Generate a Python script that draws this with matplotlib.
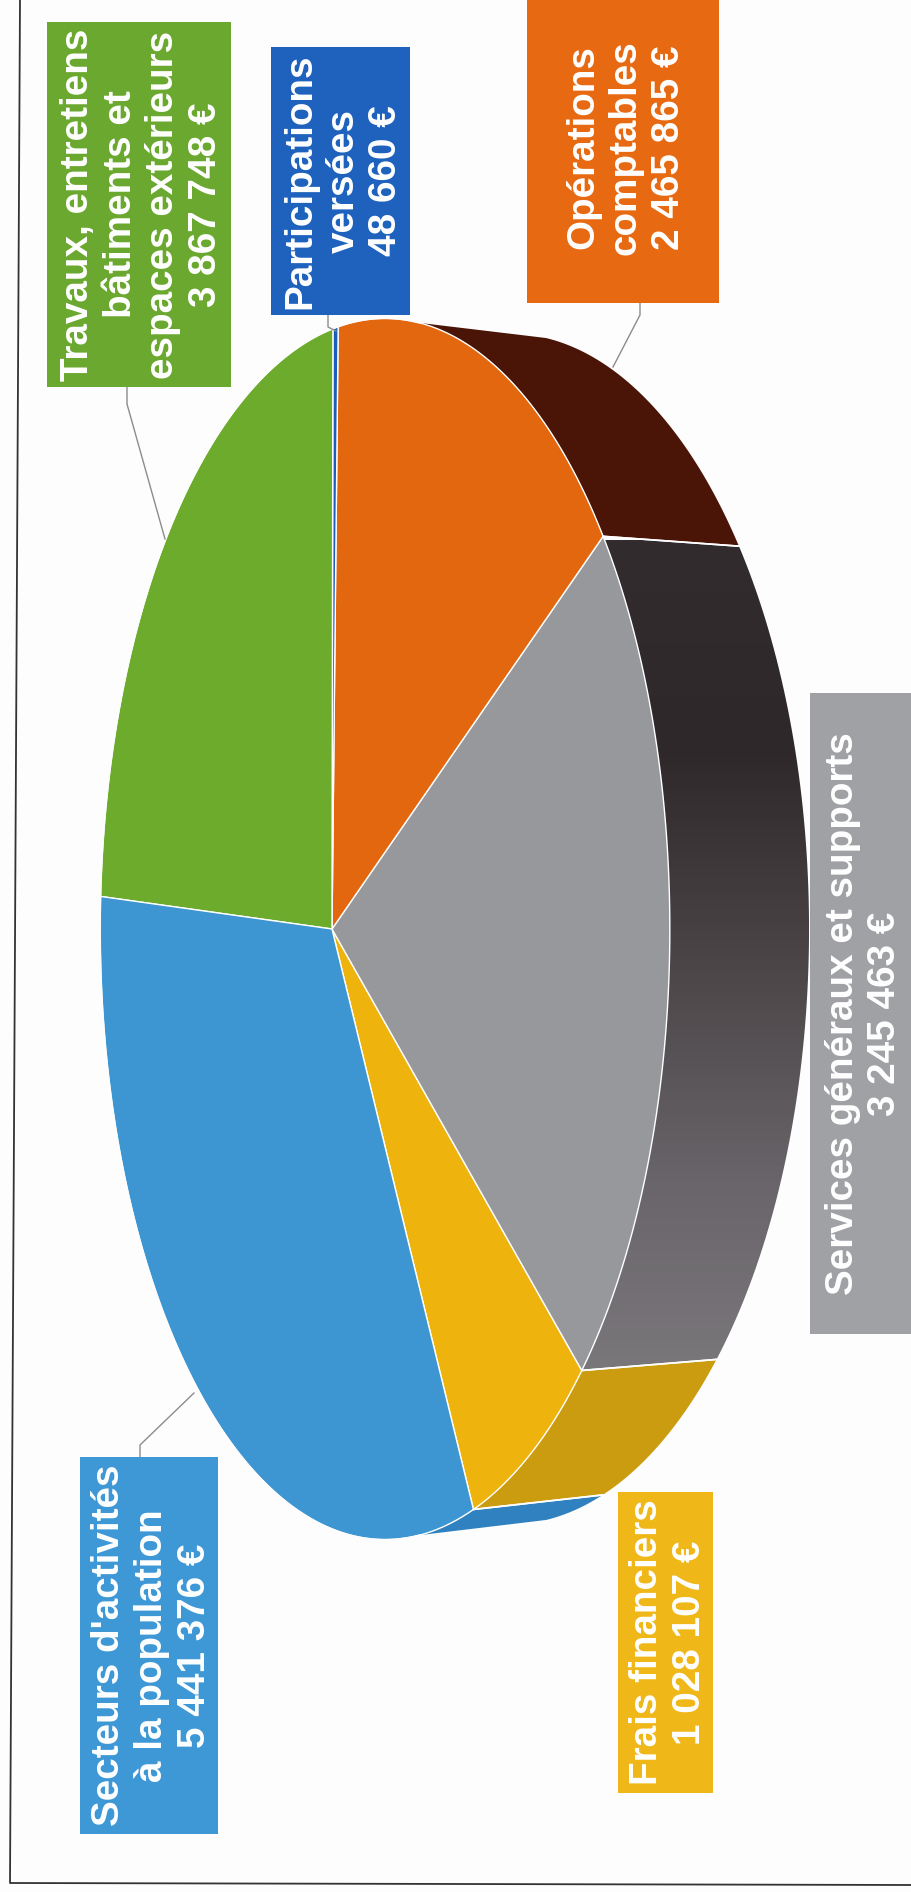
import numpy as np
import matplotlib
matplotlib.use('Agg')
import matplotlib.pyplot as plt
from matplotlib.colors import LinearSegmentedColormap
from matplotlib.patches import Polygon, Rectangle

# slices, clockwise on the page from the blue/yellow seam
names = ['Frais financiers', 'Services généraux et supports',
         'Opérations\ncomptables', 'Participations\nversées',
         'Travaux, entretiens\nbâtiments et\nespaces extérieurs',
         "Secteurs d'activités\nà la population"]
values = [1028107, 3245463, 2465865, 48660, 3867748, 5441376]
top_colors = ['#efb30e', '#96989c', '#e2670f', '#1c5dba', '#6dab2d', '#3d96d1']
side_colors = ['#cc9c10', None, '#4a1406', '#14469a', '#55861f', '#2f82bf']
box_colors = ['#f0b718', '#9fa1a5', '#e76a12', '#1e62bd', '#6aa82f', '#3f98d6']

# label boxes x0, x1, y0, y1 in page pixels
boxes = [(618, 713, 1492, 1793), (810, 912, 693, 1334), (527, 719, 0, 303),
         (271, 410, 47, 315), (47, 231, 22, 387), (80, 218, 1457, 1834)]
# the orange label sits a bit above the middle of its box
text_dy = [0, 0, -4, 0, 0, 0]

leaders = [None, None,
           [(640, 303), (640, 315), (613, 367)],
           [(328, 315), (328, 327), (336, 331)],
           [(127, 387), (127, 404), (165, 539)],
           [(140, 1457), (140, 1445), (194, 1393)]]

# perspective of the disc
START_ANGLE = 62.0
SILHOUETTE = 72.5
K = 0.186
TOP = (332, 929, 275, 600)
BOTTOM = (454, 929, 289, 585)


def rim(angles, disc):
    x0, y0, a, b = disc
    t = np.radians(angles)
    w = 1 - K * np.cos(t)
    return np.column_stack([x0 + a * np.cos(t) / w, y0 + b * np.sin(t) / w])


def euro(v):
    return f'{v:,}'.replace(',', ' ') + ' €'


fig = plt.figure(figsize=(9.12, 18.92), dpi=100, facecolor='#fdfdfd')
ax = fig.add_axes([0, 0, 1, 1])
ax.set_axis_off()

# slice limits from the values
sweeps = np.array(values) / sum(values) * 360
ends = START_ANGLE - np.cumsum(sweeps)
starts = ends + sweeps

# side wall
grey_map = LinearSegmentedColormap.from_list('side', [
    (0.0, '#332c2f'), (0.25, '#2e282b'), (0.5, '#4a4446'),
    (0.78, '#69656a'), (1.0, '#7a777b')])
for i in range(len(values)):
    # the last slice wraps round to the seam it started from
    shift = 360 if ends[i] < -180 else 0
    hi = min(starts[i] + shift, SILHOUETTE)
    lo = max(ends[i] + shift, -SILHOUETTE)
    if hi <= lo:
        continue
    ang = np.linspace(lo, hi, 80)
    pts = np.vstack([rim(ang, TOP), rim(ang[::-1], BOTTOM)])
    if side_colors[i] is None:
        patch = Polygon(pts, closed=True, facecolor='none', edgecolor='none')
        ax.add_patch(patch)
        img = ax.imshow(np.linspace(0, 1, 256).reshape(-1, 1), cmap=grey_map,
                        extent=(550, 830, 1370, 540), aspect='auto', zorder=1)
        img.set_clip_path(patch)
    else:
        ax.add_patch(Polygon(pts, closed=True, facecolor=side_colors[i],
                             edgecolor='none', zorder=1))
    # seam at the near end of the wall
    for a in (lo, hi):
        if abs(abs(a) - SILHOUETTE) > 0.01:
            seam = np.vstack([rim([a], TOP), rim([a], BOTTOM)])
            ax.plot(seam[:, 0], seam[:, 1], color='white', lw=1.2, zorder=3)

# top of the pie
for i in range(len(values)):
    ang = np.linspace(ends[i], starts[i], 120)
    pts = np.vstack([[TOP[0], TOP[1]], rim(ang, TOP)])
    ax.add_patch(Polygon(pts, closed=True, facecolor=top_colors[i],
                         edgecolor='white', lw=1.0, zorder=2, joinstyle='round'))

# visible front edge stays white, the back edge has no line on paper
back = rim(np.linspace(SILHOUETTE, 360 - SILHOUETTE, 200), TOP)
ax.plot(back[:, 0], back[:, 1], color='#fdfdfd', lw=1.2, zorder=2.5)

# labels
for i in range(len(values)):
    x0, x1, y0, y1 = boxes[i]
    ax.add_patch(Rectangle((x0, y0), x1 - x0, y1 - y0, facecolor=box_colors[i],
                           edgecolor='none', zorder=4))
    ax.text((x0 + x1) / 2 + 3, (y0 + y1) / 2 + text_dy[i],
            names[i] + '\n' + euro(values[i]),
            rotation=90, ha='center', va='center', multialignment='center',
            color='white', fontsize=27.8, fontweight='bold',
            family='Liberation Sans', linespacing=1.24, zorder=5)
    if leaders[i] is not None:
        xs, ys = zip(*leaders[i])
        ax.plot(xs, ys, color='#8c8c8c', lw=1.0, zorder=3)

# edge of the scanned page
ax.plot([20, 10, 912], [0, 1883, 1885], color='#333333', lw=1.3, zorder=6)

ax.set_xlim(0, 912)
ax.set_ylim(1892, 0)
fig.savefig('out.png', dpi=100, facecolor=fig.get_facecolor())
